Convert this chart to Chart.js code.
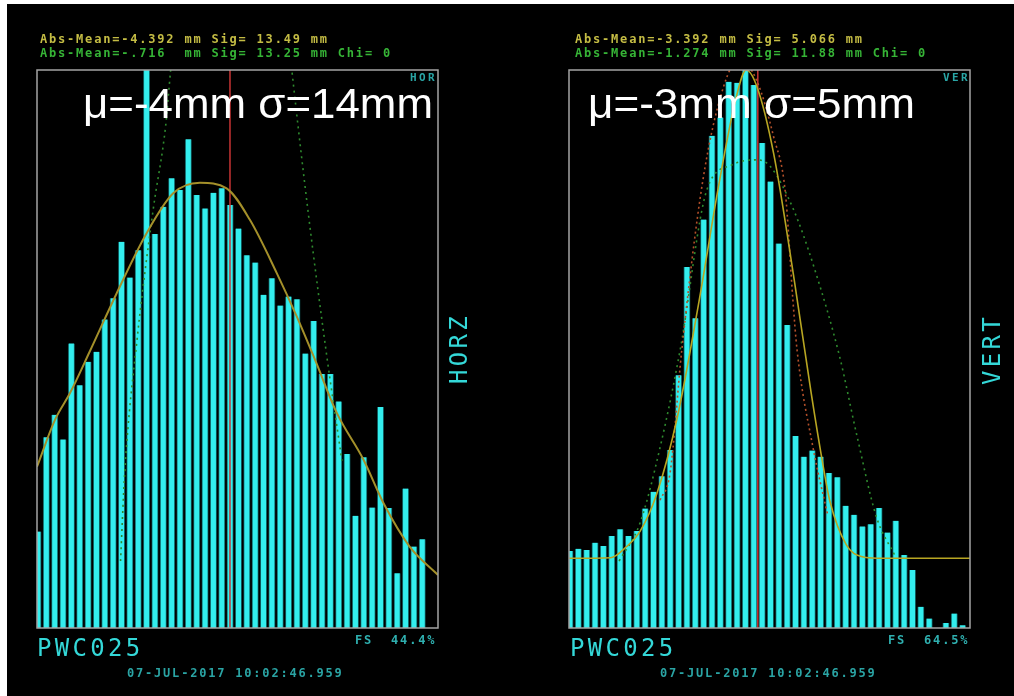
<!DOCTYPE html>
<html>
<head>
<meta charset="utf-8">
<script src="https://cdn.jsdelivr.net/npm/chart.js@4/dist/chart.umd.min.js"></script>
<style>
  html, body { margin: 0; padding: 0; background: #fff; width: 1014px; height: 696px; overflow: hidden; }
  #screen { position: absolute; left: 7px; top: 4px; width: 1007px; height: 692px; background: #000; }
  canvas { position: absolute; top: 0; }
  #horzChart { left: 0; }
  #vertChart { left: 507px; }
</style>
</head>
<body>
<div id="screen"></div>
<canvas id="horzChart" width="507" height="696"></canvas>
<canvas id="vertChart" width="507" height="696"></canvas>
<script>
// 48 histogram bins per plane, heights in % of full scale
const binLabels = Array.from({ length: 48 }, (_, i) => String(i + 1));

const horzCounts = [
  17.3, 34.2, 38.2, 33.8, 51.0, 43.5, 47.7, 49.5, 55.3, 59.1, 69.2, 62.8,
  67.7, 105, 70.6, 75.5, 80.6, 78.5, 87.6, 77.6, 75.2, 78.0, 78.8, 75.8,
  71.6, 66.8, 65.5, 59.7, 62.7, 57.8, 59.4, 58.9, 49.2, 55.0, 45.5, 45.5,
  40.6, 31.2, 20.1, 30.6, 21.6, 39.6, 21.5, 9.8, 25.0, 14.6, 15.9, 0,
];
const vertCounts = [
  13.8, 14.2, 14.0, 15.3, 14.7, 16.5, 17.7, 16.5, 17.4, 21.4, 24.4, 27.2,
  31.9, 45.3, 64.7, 55.5, 73.2, 88.2, 91.5, 97.9, 97.7, 103, 97.3, 86.9,
  80.0, 68.9, 54.3, 34.4, 30.7, 31.8, 30.7, 27.8, 27.0, 21.9, 20.3, 18.2,
  18.6, 21.5, 17.1, 19.2, 13.1, 10.4, 3.8, 1.7, 0, 0.9, 2.6, 0.5,
];

// fitted curves (bin position, % of full scale)
const horzFitBins = [0, 2.15, 3.95, 6.3, 9.54, 13.1, 16.3, 19.5, 22.7, 25.5, 28.7, 31.1, 33.3, 35.9, 39.1, 41.5, 44.6, 48];
const horzFitVals = [28.9, 37.3, 42.1, 49.5, 60.0, 70.7, 77.9, 79.8, 78.8, 73.1, 63.6, 55.8, 48.0, 38.5, 30.1, 22.3, 14.6, 9.5];
const horzRawBins = [10.0, 10.5, 12.0, 13.9, 15.4, 16.0, 23.0, 29.8, 30.5, 32.5, 34.7, 36.5];
const horzRawVals = [12, 27.8, 52, 74.9, 90, 100, 190, 110, 100, 74, 48.6, 30];
const horzMeanBin = 23.1;

const vertFitBins = [0, 5, 6.9, 8.5, 10.5, 13, 15.5, 18, 20, 21.2, 22.5, 24.5, 27, 29, 30.3, 31.2, 33.2, 35, 36.9, 48];
const vertFitVals = [12.5, 12.6, 14.6, 17.3, 24, 38, 58, 80, 95, 100, 97, 85, 62, 42, 30.1, 22.9, 14.9, 12.8, 12.5, 12.5];
const vertCoreBins = [10.9, 12.1, 13.5, 16, 18.5, 20.4, 22.5, 24.5, 25.9, 26.8, 27.3, 29.2, 31];
const vertCoreVals = [22.9, 27.8, 49.8, 80, 97, 102, 98, 88, 78, 58.8, 49.8, 32.4, 20];
const vertRawBins = [6, 8.5, 11, 13.3, 16.5, 19.5, 22.5, 24.1, 26.9, 29.3, 32.4, 34.4, 36.8, 39];
const vertRawVals = [12, 18.8, 33, 49.8, 78.5, 83, 83.9, 82.7, 74.9, 64.8, 48.6, 34.9, 19.9, 13];
const vertMeanBin = 22.6;

const zip = (xs, ys) => xs.map((x, i) => ({ x, y: ys[i] }));
const mono = '"DejaVu Sans Mono", "Liberation Mono", monospace';

const horzPanel = {
  offset: 0,
  header1: 'Abs-Mean=-4.392 mm Sig= 13.49 mm',
  header2: 'Abs-Mean=-.716  mm Sig= 13.25 mm Chi= 0',
  headerX: 40,
  label: 'μ=-4mm σ=14mm', labelX: 83, labelW: 350,
  tag: 'HOR', tagX: 410,
  side: 'HORZ', sideX: 467, sideY: 384,
  fs: 'FS  44.4%', fsX: 355,
  name: 'PWC025', nameX: 37,
  date: '07-JUL-2017 10:02:46.959', dateX: 127,
};
const vertPanel = {
  offset: 507,
  header1: 'Abs-Mean=-3.392 mm Sig= 5.066 mm',
  header2: 'Abs-Mean=-1.274 mm Sig= 11.88 mm Chi= 0',
  headerX: 575,
  label: 'μ=-3mm σ=5mm', labelX: 588, labelW: 327,
  tag: 'VER', tagX: 943,
  side: 'VERT', sideX: 1000, sideY: 385,
  fs: 'FS  64.5%', fsX: 888,
  name: 'PWC025', nameX: 570,
  date: '07-JUL-2017 10:02:46.959', dateX: 660,
};

const text = (ctx, str, x, y, font, color, spacing) => {
  ctx.font = font;
  ctx.fillStyle = color;
  ctx.letterSpacing = spacing + 'px';
  ctx.textAlign = 'left';
  ctx.textBaseline = 'alphabetic';
  ctx.fillText(str, x, y);
};

const decorPlugin = (p) => ({
  id: 'panelDecor',
  afterDatasetsDraw: (chart) => {
    const ctx = chart.ctx;
    const a = chart.chartArea;
    const o = p.offset;
    ctx.save();
    // frame
    ctx.strokeStyle = '#a4a4a4';
    ctx.lineWidth = 1.5;
    ctx.strokeRect(a.left, a.top, a.right - a.left, a.bottom - a.top);

    const small = 'bold 12px ' + mono;
    text(ctx, p.header1, p.headerX - o, 43, small, '#c4bc44', 1.8);
    text(ctx, p.header2, p.headerX - o, 57, small, '#36b436', 1.8);
    text(ctx, p.tag, p.tagX - o, 80.5, 'bold 11px ' + mono, '#2aa6a6', 2.4);
    text(ctx, p.fs, p.fsX - o, 644, small, '#2fb0b0', 1.8);
    text(ctx, p.date, p.dateX - o, 677, small, '#2aa4a4', 1.8);
    text(ctx, p.name, p.nameX - o, 656, '24px ' + mono, '#34d8d8', 3.3);

    // rotated plane name
    ctx.save();
    ctx.translate(p.sideX - o, p.sideY);
    ctx.rotate(-Math.PI / 2);
    text(ctx, p.side, 0, 0, '24px ' + mono, '#34d8d8', 3.3);
    ctx.restore();

    // overlay label
    ctx.save();
    ctx.font = '42px "Liberation Sans", Arial, sans-serif';
    ctx.letterSpacing = '0px';
    const w = ctx.measureText(p.label).width;
    ctx.translate(p.labelX - o, 118);
    ctx.scale(p.labelW / w, 1);
    ctx.fillStyle = '#ffffff';
    ctx.textAlign = 'left';
    ctx.textBaseline = 'alphabetic';
    ctx.fillText(p.label, 0, 0);
    ctx.restore();
    ctx.restore();
  },
});

const lineSet = (data, color, width, dash) => ({
  type: 'line',
  data,
  xAxisID: 'xFit',
  yAxisID: 'y',
  borderColor: color,
  borderWidth: width,
  borderDash: dash,
  pointRadius: 0,
  cubicInterpolationMode: 'monotone',
  fill: false,
  order: 0,
});

const makeChart = (id, panel, counts, lines, padding) => {
  new Chart(document.getElementById(id), {
    type: 'bar',
    data: {
      labels: binLabels,
      datasets: [
        {
          data: counts,
          backgroundColor: '#33eeee',
          borderColor: '#0f5a5c',
          borderWidth: { left: 1, right: 1, top: 0, bottom: 0 },
          borderSkipped: false,
          barThickness: 6.4,
          order: 1,
        },
        ...lines,
      ],
    },
    options: {
      responsive: false,
      animation: false,
      devicePixelRatio: 1,
      layout: { padding },
      scales: {
        x: { type: 'category', display: false, offset: true },
        xFit: { type: 'linear', min: 0, max: 48, display: false, offset: false },
        y: { type: 'linear', min: 0, max: 100, display: false },
      },
      plugins: {
        legend: { display: false },
        title: { display: false },
        tooltip: { enabled: false },
      },
    },
    plugins: [decorPlugin(panel)],
  });
};

makeChart('horzChart', horzPanel, horzCounts, [
  lineSet(zip(horzFitBins, horzFitVals), '#a4902a', 2, []),
  lineSet(zip(horzRawBins, horzRawVals), '#2e8a2e', 1.6, [2, 4]),
  lineSet([{ x: horzMeanBin, y: 0 }, { x: horzMeanBin, y: 100 }], '#c83434', 1.5, []),
], { left: 37, right: 69, top: 70, bottom: 68 });

makeChart('vertChart', vertPanel, vertCounts, [
  lineSet(zip(vertFitBins, vertFitVals), '#b8a622', 1.6, []),
  lineSet(zip(vertCoreBins, vertCoreVals), '#b4502a', 1.6, [2, 3]),
  lineSet(zip(vertRawBins, vertRawVals), '#2e8a2e', 1.6, [2, 4]),
  lineSet([{ x: vertMeanBin, y: 0 }, { x: vertMeanBin, y: 100 }], '#c83434', 1.5, []),
], { left: 62, right: 44, top: 70, bottom: 68 });
</script>
</body>
</html>
